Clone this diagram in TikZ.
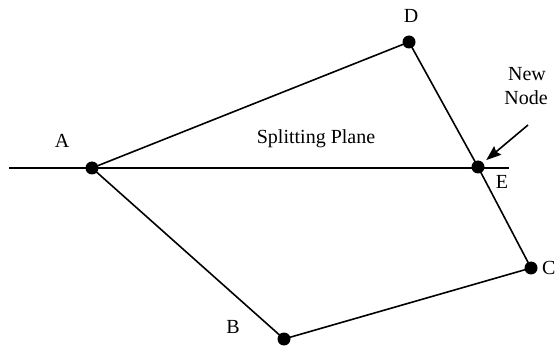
\documentclass[tikz,border=0pt]{standalone}
\usepackage{fontspec}
\setmainfont{Liberation Serif}
\usetikzlibrary{arrows.meta}
\begin{document}
\begin{tikzpicture}[x=1pt,y=-1pt,
  dot/.style={circle,fill=black,inner sep=0pt,minimum size=13pt},
  edge/.style={line width=1.6pt},
  lbl/.style={font=\fontsize{20}{24}\selectfont,inner sep=0pt,anchor=base}]
\path[use as bounding box, clip] (0,0) rectangle (555,350);
\fill[white] (0,0) rectangle (555,350);
\coordinate (L) at (9,168);
\coordinate (R) at (509,168);
\node[dot] (A) at (92,168) {};
\node[dot] (D) at (409,42) {};
\node[dot] (E) at (478,167) {};
\node[dot] (C) at (531,268) {};
\node[dot] (B) at (284,339) {};
\draw[edge] (L) -- (R);
\draw[edge] (A.center) -- (D.center) -- (E.center) -- (C.center) -- (B.center) -- (A.center);
\node[lbl] (la) at (62,148) {A};
\node[lbl] (lb) at (233,333) {B};
\node[lbl] (ld) at (411,23) {D};
\node[lbl] (le) at (502,189) {E};
\node[lbl,anchor=base west] (lc) at (542,275) {C};
\node[lbl] (sp) at (316,144) {Splitting Plane};
\node[lbl] (nn1) at (527,81) {New};
\node[lbl] (nn2) at (526,105) {Node};
\coordinate (t) at (528,125);
\draw[edge,-{Stealth[length=15pt,width=11pt,inset=2pt]},shorten >=4pt] (t) -- (E);
\end{tikzpicture}
\end{document}
